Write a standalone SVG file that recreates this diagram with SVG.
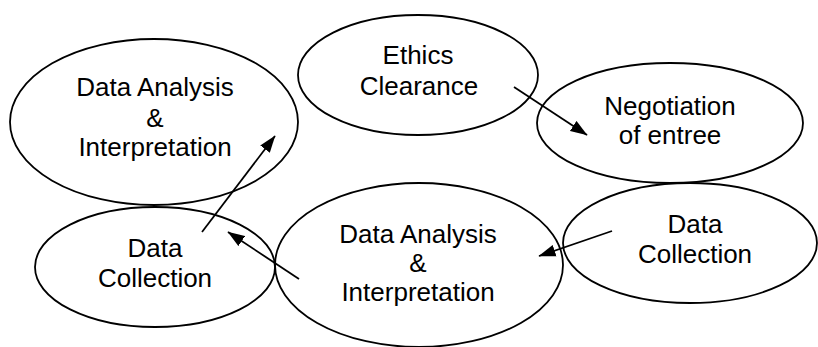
<svg xmlns="http://www.w3.org/2000/svg" width="818" height="347" viewBox="0 0 818 347">
<defs>
<style>
.node ellipse{fill:none;stroke:#000;stroke-width:1.8}
.node text{font-family:"Liberation Sans",Arial,sans-serif;font-size:26px;text-anchor:middle;fill:#000}
.edges line{stroke:#000;stroke-width:1.8;marker-end:url(#ah)}
</style>
<marker id="ah" markerUnits="userSpaceOnUse" markerWidth="18" markerHeight="13" refX="16.5" refY="6" orient="auto" viewBox="0 0 18 12">
<path d="M0,0 L17,6 L0,12 z" fill="#000"/>
</marker>
</defs>
<rect width="818" height="347" fill="#fff"/>
<g id="analysis-top" class="node">
<ellipse cx="154" cy="122" rx="144" ry="83"/>
<text x="155" y="96">Data Analysis</text>
<text x="155" y="127">&amp;</text>
<text x="155" y="156">Interpretation</text>
</g>
<g id="ethics" class="node">
<ellipse cx="418" cy="75" rx="120" ry="60"/>
<text x="418" y="64">Ethics</text>
<text x="419" y="95">Clearance</text>
</g>
<g id="negotiation" class="node">
<ellipse cx="670" cy="123" rx="133" ry="60"/>
<text x="670" y="115">Negotiation</text>
<text x="670" y="144">of entree</text>
</g>
<g id="collection-left" class="node">
<ellipse cx="155" cy="267" rx="120" ry="60"/>
<text x="155" y="257">Data</text>
<text x="155" y="287">Collection</text>
</g>
<g id="analysis-bottom" class="node">
<ellipse cx="419" cy="265" rx="144" ry="82"/>
<text x="418" y="243">Data Analysis</text>
<text x="418" y="272">&amp;</text>
<text x="418" y="301">Interpretation</text>
</g>
<g id="collection-right" class="node">
<ellipse cx="690" cy="243" rx="127" ry="60"/>
<text x="695" y="233">Data</text>
<text x="695" y="263">Collection</text>
</g>
<g id="connectors" class="edges">
<line x1="514" y1="87" x2="587" y2="135"/>
<line x1="612" y1="231" x2="539" y2="256"/>
<line x1="299" y1="279" x2="228" y2="232"/>
<line x1="202" y1="232" x2="275" y2="136"/>
</g>
</svg>
